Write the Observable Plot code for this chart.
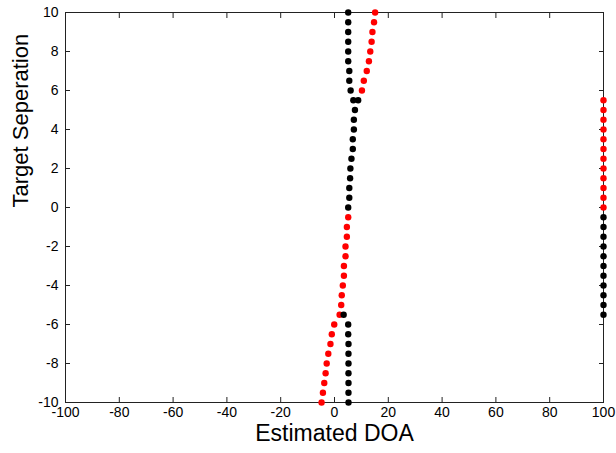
<!DOCTYPE html>
<html>
<head>
<meta charset="utf-8">
<script src="https://cdn.jsdelivr.net/npm/d3@7"></script>
<script src="https://cdn.jsdelivr.net/npm/@observablehq/plot@0.6"></script>
<style>
  html, body { margin: 0; padding: 0; background: white; }
  #chart svg { display: block; }
</style>
</head>
<body>
<div id="chart"></div>
<script>
// Target separation values (y)
const separation = [10, 9.5, 9, 8.5, 8, 7.5, 7, 6.5, 6, 5.5, 5, 4.5, 4, 3.5, 3, 2.5, 2, 1.5, 1, 0.5, 0,
  -0.5, -1, -1.5, -2, -2.5, -3, -3.5, -4, -4.5, -5, -5.5, -6, -6.5, -7, -7.5, -8, -8.5, -9, -9.5, -10];
// Estimated DOA, black series
const blackDOA = [5.1, 5.1, 5.1, 5.1, 5.1, 5.1, 5.5, 5.5, 6.0, 7.0, 7.6, 7.2, 7.2, 6.8, 6.8, 6.3, 5.9, 5.8, 5.5, 5.5, 5.1,
  100, 100, 100, 100, 100, 100, 100, 100, 100, 100, 100, 5.1, 5.1, 5.2, 5.2, 5.2, 5.2, 5.2, 5.2, 5.2];
// Estimated DOA, red series
const redDOA = [15.1, 14.7, 14.1, 13.8, 13.3, 12.8, 12.0, 10.9, 10.2, 100, 100, 100, 100, 100, 100, 100, 100, 100, 100, 100, 100,
  5.1, 4.6, 4.6, 4.1, 4.1, 3.5, 3.5, 3.1, 2.7, 2.5, 1.9, -0.1, -1.0, -1.5, -2.3, -2.9, -3.3, -3.8, -4.3, -4.8];
// Extra black estimates near the transitions
const extraSeparation = [5.5, -5.5];
const extraBlackDOA = [8.8, 3.4];

const xTicks = [-100, -80, -60, -40, -20, 0, 20, 40, 60, 80, 100];
const yTicks = [-10, -8, -6, -4, -2, 0, 2, 4, 6, 8, 10];
const xLabel = "Estimated DOA";
const yLabel = "Target Seperation";

const black = separation.map((s, i) => ({sep: s, doa: blackDOA[i]}))
  .concat(extraSeparation.map((s, i) => ({sep: s, doa: extraBlackDOA[i]})));
const red = separation.map((s, i) => ({sep: s, doa: redDOA[i]}));

const font = "'Liberation Sans', Arial, Helvetica, sans-serif";
const fmt = d => String(d);

const chart = Plot.plot({
  width: 616,
  height: 453,
  marginLeft: 65,
  marginRight: 13,
  marginTop: 12,
  marginBottom: 51,
  style: {fontFamily: font, fontSize: "14px", color: "black", background: "white"},
  x: {domain: [-100, 100]},
  y: {domain: [-10, 10]},
  marks: [
    Plot.frame({stroke: "#222", strokeWidth: 1}),
    Plot.axisX(xTicks, {anchor: "bottom", tickSize: -5, tickPadding: 10, tickFormat: fmt, label: null, fontSize: 14, stroke: "#222"}),
    Plot.axisX(xTicks, {anchor: "top", tickSize: -5, tickFormat: () => "", label: null, stroke: "#222"}),
    Plot.axisY(yTicks, {anchor: "left", tickSize: -5, tickPadding: 12, tickFormat: fmt, label: null, fontSize: 14, stroke: "#222"}),
    Plot.axisY(yTicks, {anchor: "right", tickSize: -5, tickFormat: () => "", label: null, stroke: "#222"}),
    Plot.dot(red, {x: "doa", y: "sep", r: 3.2, fill: "#ff0000", stroke: "none"}),
    Plot.dot(black, {x: "doa", y: "sep", r: 3.2, fill: "black", stroke: "none"}),
    Plot.text([xLabel], {text: d => d, frameAnchor: "bottom", dy: 38, fontSize: 23, fill: "black"}),
    Plot.text([yLabel], {text: d => d, frameAnchor: "left", dx: -45, rotate: -90, fontSize: 22, fill: "black"})
  ]
});
document.getElementById("chart").appendChild(chart);
</script>
</body>
</html>
